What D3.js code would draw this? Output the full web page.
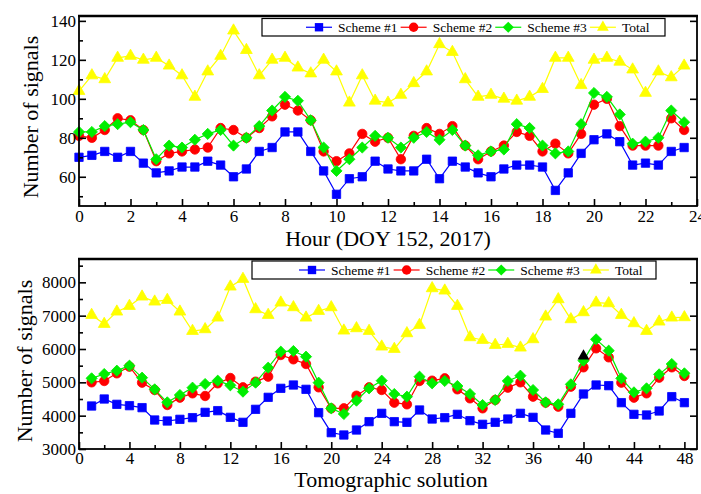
<!DOCTYPE html>
<html><head><meta charset="utf-8">
<script src="https://cdn.jsdelivr.net/npm/d3@7"></script>
<style>
body{margin:0;background:#fff}
svg{display:block}
text{font-family:"Liberation Serif","Times New Roman",serif !important;fill:#000}
</style>
</head><body>
<svg id="c" width="701" height="494"></svg>
<script>
// ---------- DATA ----------
const seriesNames = ["Scheme #1", "Scheme #2", "Scheme #3", "Total"];
const seriesColors = ["#0000ff", "#ff0000", "#00ee00", "#ffff00"];

const hours = [0,0.5,1,1.5,2,2.5,3,3.5,4,4.5,5,5.5,6,6.5,7,7.5,8,8.5,9,9.5,10,10.5,11,11.5,
               12,12.5,13,13.5,14,14.5,15,15.5,16,16.5,17,17.5,18,18.5,19,19.5,20,20.5,21,21.5,22,22.5,23,23.5];
const scheme1Hour = [70,71,73,70,73,67,62,63,65,65,68,66,60,64,73,75,83,83,73,63,51,59,60,68,
                     64,63,63,69,59,68,65,62,60,64,66,66,65,53,62,72,79,82,78,66,67,66,73,75];
const scheme2Hour = [81,80,84,90,89,84,68,72,73,74,75,85,84,80,85,91,97,94,89,73,68,72,82,78,
                     80,69,81,85,82,86,76,69,73,76,83,81,73,77,72,82,97,100,86,76,76,76,90,84];
const scheme3Hour = [83,83,86,87,88,84,69,76,75,79,82,84,76,80,86,94,101,99,89,75,63,69,75,81,
                     80,75,80,83,79,84,76,71,73,74,87,85,76,72,73,87,103,101,92,77,78,80,94,88];
const totalHour   = [104,112,110,121,122,120,121,117,112,101,114,122,135,125,112,120,121,116,113,120,114,98,112,99,
                     98,102,108,114,128,124,110,101,102,100,99,101,105,121,121,107,120,121,119,115,103,114,111,117];

const solutions = [1,2,3,4,5,6,7,8,9,10,11,12,13,14,15,16,17,18,19,20,21,22,23,24,
                   25,26,27,28,29,30,31,32,33,34,35,36,37,38,39,40,41,42,43,44,45,46,47,48];
const scheme1Sol = [4290,4500,4340,4300,4240,3870,3840,3890,3940,4100,4150,3950,
                    3800,4190,4550,4820,4920,4790,4090,3490,3420,3570,3820,4070,
                    3820,3800,4170,3900,3940,4040,3850,3740,3800,3900,4070,3950,
                    3570,3470,4070,4650,4920,4900,4390,4040,4020,4140,4570,4390];
const scheme2Sol = [5000,5040,5270,5470,4990,4770,4320,4540,4670,4590,4970,5130,
                    4850,5020,5170,5820,5690,5550,4850,4220,4220,4600,4850,4770,
                    4390,4340,5040,5050,5120,4790,4520,4220,4470,4840,5000,4570,
                    4390,4270,4870,5450,6020,5750,4990,4540,4670,5140,5450,5190];
const scheme3Sol = [5120,5250,5350,5500,5140,4790,4400,4620,4840,4950,5050,4910,
                    4720,4990,5440,5920,5940,5770,4990,4220,4050,4450,4820,5050,
                    4650,4570,5170,4970,5040,4890,4650,4320,4470,5040,5200,4770,
                    4400,4340,4940,5650,6290,5950,5120,4700,4820,5240,5550,5270];
const totalSol   = [7020,6750,7120,7290,7570,7420,7470,7120,6540,6590,6940,7870,
                    8100,7190,7020,7390,7250,6940,7140,7250,6550,6620,6540,6070,
                    6000,6470,6720,7820,7750,7290,6350,6270,6120,6150,6040,6290,
                    6970,7490,6890,7100,7390,7370,7020,6770,6540,6820,6940,6950];
const markedPoint = {x: 40, y: 5790};

const hourMajorTicks = [0,2,4,6,8,10,12,14,16,18,20,22,24];
const hourMinorTicks = [1,3,5,7,9,11,13,15,17,19,21,23];
const countMajorTicks = [60,80,100,120,140];
const countMinorTicks = [50,70,90,110,130];
const solMajorTicks = [0,4,8,12,16,20,24,28,32,36,40,44,48];
const solMinorTicks = [2,6,10,14,18,22,26,30,34,38,42,46];
const sigMajorTicks = [3000,4000,5000,6000,7000,8000];
const sigMinorTicks = [3500,4500,5500,6500,7500,8500];

// ---------- DRAW ----------
const svg = d3.select("#c");
const serif = '"Liberation Serif", "Times New Roman", serif';
const symbols = [
  {type: d3.symbolSquare, size: 70, rot: 0},
  {type: d3.symbolCircle, size: 70, rot: 0},
  {type: d3.symbolSquare, size: 62, rot: 45},
  {type: d3.symbolTriangle, size: 60, rot: 0}
];

function panel(cfg) {
  const g = svg.append("g");
  const x = d3.scaleLinear().domain(cfg.xDomain).range([79, 697]);
  const y = d3.scaleLinear().domain(cfg.yDomain).range([cfg.bottom, cfg.top]);

  cfg.series.forEach((vals, i) => {
    const pts = cfg.xs.map((xv, j) => [xv, vals[j]]);
    g.append("path")
      .attr("d", d3.line().x(d => x(d[0])).y(d => y(d[1]))(pts))
      .attr("fill", "none").attr("stroke", seriesColors[i]).attr("stroke-width", 1.2);
    const sym = d3.symbol().type(symbols[i].type).size(symbols[i].size);
    g.selectAll(null).data(pts).enter().append("path")
      .attr("d", sym)
      .attr("transform", d => `translate(${x(d[0])},${y(d[1])}) rotate(${symbols[i].rot})`)
      .attr("fill", seriesColors[i]).attr("stroke", seriesColors[i]).attr("stroke-width", 0.8);
  });

  if (cfg.mark) {
    g.append("path")
      .attr("d", d3.symbol().type(d3.symbolTriangle).size(60)())
      .attr("transform", `translate(${x(cfg.mark.x)},${y(cfg.mark.y)})`)
      .attr("fill", "#000");
  }

  const fmt = d3.format("d");
  const styleAxis = sel => {
    sel.attr("font-family", serif).attr("font-size", 17);
    sel.selectAll("text").style("font-family", serif).style("font-size", "17px").attr("fill", "#000");
  };
  g.append("g").attr("transform", `translate(0,${cfg.bottom})`)
    .call(d3.axisBottom(x).tickValues(cfg.xMajor).tickFormat(fmt).tickSizeInner(-7).tickSizeOuter(0).tickPadding(cfg.xPad))
    .call(styleAxis);
  g.append("g").attr("transform", `translate(0,${cfg.bottom})`)
    .call(d3.axisBottom(x).tickValues(cfg.xMinor).tickSizeInner(-4).tickSizeOuter(0).tickFormat(""));
  g.append("g").attr("transform", `translate(79,0)`)
    .call(d3.axisLeft(y).tickValues(cfg.yMajor).tickFormat(fmt).tickSizeInner(-7).tickSizeOuter(0).tickPadding(3))
    .call(styleAxis);
  g.append("g").attr("transform", `translate(79,0)`)
    .call(d3.axisLeft(y).tickValues(cfg.yMinor).tickSizeInner(-4).tickSizeOuter(0).tickFormat(""));
  g.append("g").attr("transform", `translate(697,0)`)
    .call(d3.axisRight(y).tickValues(cfg.yMajor).tickSizeInner(-7).tickSizeOuter(0).tickFormat(""));
  g.selectAll(".domain").remove();
  g.selectAll(".tick line").attr("stroke", "#000").attr("stroke-width", 1.6);

  g.append("rect").attr("x", 79).attr("y", cfg.top).attr("width", 618).attr("height", cfg.bottom - cfg.top)
    .attr("fill", "none").attr("stroke", "#000").attr("stroke-width", 1.8);
  g.append("line").attr("x1", 78).attr("x2", 698).attr("y1", cfg.top).attr("y2", cfg.top)
    .attr("stroke", "#000").attr("stroke-width", 2.6);

  g.append("text").attr("transform", `translate(${cfg.yTitleX},${cfg.yTitleY}) rotate(-90)`)
    .attr("text-anchor", "middle").style("font-family", serif).style("font-size", "22px").text("Number of signals");
  g.append("text").attr("x", cfg.xTitleX).attr("y", cfg.xTitleY)
    .attr("text-anchor", "middle").style("font-family", serif).style("font-size", "22px").text(cfg.xTitle);

  const lg = g.append("g");
  lg.append("rect").attr("x", cfg.legBox[0]).attr("y", cfg.legBox[1])
    .attr("width", cfg.legBox[2] - cfg.legBox[0]).attr("height", cfg.legBox[3] - cfg.legBox[1])
    .attr("fill", "#fff").attr("stroke", "#000").attr("stroke-width", 1.2);
  let lx = cfg.legStart;
  const cy = (cfg.legBox[1] + cfg.legBox[3]) / 2;
  seriesNames.forEach((name, i) => {
    lg.append("line").attr("x1", lx).attr("x2", lx + 26).attr("y1", cy).attr("y2", cy)
      .attr("stroke", seriesColors[i]).attr("stroke-width", 1.2);
    lg.append("path").attr("d", d3.symbol().type(symbols[i].type).size(symbols[i].size)())
      .attr("transform", `translate(${lx + 13},${cy}) rotate(${symbols[i].rot})`)
      .attr("fill", seriesColors[i]);
    const t = lg.append("text").attr("x", lx + 32).attr("y", cy + 4.5)
      .style("font-family", serif).style("font-size", "13.5px").text(name);
    lx = lx + 32 + t.node().getComputedTextLength() + 3;
  });
}

panel({
  xs: hours, series: [scheme1Hour, scheme2Hour, scheme3Hour, totalHour],
  xDomain: [0, 24], yDomain: [45, 142.5], top: 16, bottom: 206,
  xMajor: hourMajorTicks, xMinor: hourMinorTicks, yMajor: countMajorTicks, yMinor: countMinorTicks,
  xPad: 4, yTitleX: 38, yTitleY: 117, xTitleX: 388, xTitleY: 246, xTitle: "Hour (DOY 152, 2017)",
  legBox: [262, 18.5, 665, 36], legStart: 306
});
panel({
  xs: solutions, series: [scheme1Sol, scheme2Sol, scheme3Sol, totalSol], mark: markedPoint,
  xDomain: [0, 49], yDomain: [3000, 8700], top: 259, bottom: 449,
  xMajor: solMajorTicks, xMinor: solMinorTicks, yMajor: sigMajorTicks, yMinor: sigMinorTicks,
  xPad: 2.5, yTitleX: 32, yTitleY: 361, xTitleX: 391, xTitleY: 487, xTitle: "Tomographic solution",
  legBox: [252, 261, 656, 279], legStart: 299
});
</script>
</body></html>
